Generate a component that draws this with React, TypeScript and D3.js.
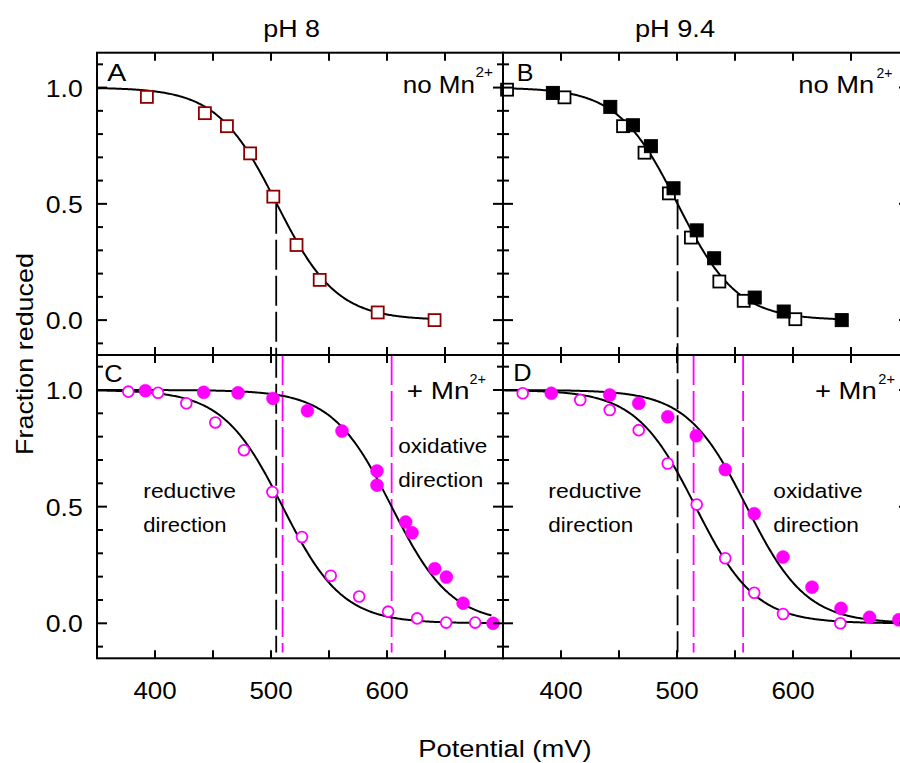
import React from "react";
import * as d3 from "d3";

// ---------- data ----------
const potentialTickLabels = [400, 500, 600];
const fractionTickLabels = [0.0, 0.5, 1.0];
const columnTitles = ["pH 8", "pH 9.4"];
const panelLetters = ["A", "B", "C", "D"];

// Panel A: pH 8, no Mn2+ (dark red open squares)
const aPotential = [393, 443, 462, 482, 502, 522, 542, 592, 641];
const aFraction = [0.96, 0.89, 0.834, 0.717, 0.531, 0.323, 0.173, 0.033, 0.0];

// Panel B: pH 9.4, no Mn2+
const bFilledPotential = [393, 442.5, 462, 477.5, 497, 517, 532, 567, 592, 642];
const bFilledFraction = [0.977, 0.917, 0.838, 0.748, 0.567, 0.386, 0.266, 0.097, 0.037, 0.0];
const bOpenPotential = [353.5, 403, 453.5, 472, 493, 512, 536.5, 557.5, 602];
const bOpenFraction = [0.991, 0.958, 0.834, 0.72, 0.545, 0.355, 0.166, 0.083, 0.004];

// Panel C: pH 8, + Mn2+
const cOpenPotential = [377, 402.6, 427, 452, 476.7, 501.2, 526.7, 551.5, 576, 601, 626, 651, 676];
const cOpenFraction = [0.993, 0.988, 0.943, 0.861, 0.742, 0.563, 0.37, 0.204, 0.115, 0.05, 0.021, 0.003, 0.003];
const cFilledPotential = [391.7, 442, 471.6, 501.7, 531.4, 561.2, 591.4, 591.4, 616.1, 621.6, 641.2, 651.2, 665.6, 691.4];
const cFilledFraction = [0.997, 0.99, 0.988, 0.964, 0.911, 0.824, 0.653, 0.592, 0.434, 0.388, 0.234, 0.198, 0.086, 0.0];

// Panel D: pH 9.4, + Mn2+
const dOpenPotential = [367, 416.6, 442, 467, 492, 517, 541.6, 566.6, 591.4, 640.8];
const dOpenFraction = [0.986, 0.957, 0.914, 0.828, 0.685, 0.509, 0.279, 0.131, 0.04, 0.0];
const dFilledPotential = [391.6, 442, 467, 492, 516.6, 541.6, 566.6, 591.4, 616.4, 641.4, 666, 691.2];
const dFilledFraction = [0.986, 0.979, 0.943, 0.885, 0.804, 0.659, 0.47, 0.284, 0.155, 0.064, 0.026, 0.015];

// Fitted Nernst (n = 1) midpoint potentials and curve ranges (mV)
const fitMidpoints = { A: 505, B: 500.5, Cred: 510, Cox: 604, Dred: 516, Dox: 560 };
const fitEnd = { A: 641, B: 642, C: 690, D: 700 };
const nernstSlope = 25.7;

// Dashed midpoint markers (mV)
const blackMidpoints = [504.5, 500.5];
const cMagentaMidpoints = [510, 604];
const dMagentaMidpoints = [514.3, 557];

// ---------- layout ----------
const W = 900;
const H = 763;
const FONT = "'Liberation Sans', Arial, Helvetica, sans-serif";
const DARKRED = "#8b0000";
const MAGENTA = "#ff00ff";

const xL = d3.scaleLinear().domain([350, 700]).range([97, 503]);
const xR = d3.scaleLinear().domain([350, 700]).range([503, 909]);
const yT = d3.scaleLinear().domain([-0.15, 1.15]).range([355, 52.7]);
const yB = d3.scaleLinear().domain([-0.15, 1.15]).range([658.3, 355]);

type Scale = d3.ScaleLinear<number, number>;

const nernst = (E: number, Em: number) => 1 / (1 + Math.exp((E - Em) / nernstSlope));

function fitPath(x: Scale, y: Scale, Em: number, end: number) {
  const Es = d3.range(350, end + 0.001, 1);
  const line = d3
    .line<number>()
    .x((e) => x(e))
    .y((e) => y(nernst(e, Em)))
    .curve(d3.curveLinear);
  return line(Es) || "";
}

const T = ({ x, y, w, size, children, fill = "#000" }: any) => (
  <text
    x={x}
    y={y}
    fontSize={size}
    fontFamily={FONT}
    fill={fill}
    textLength={w}
    lengthAdjust="spacingAndGlyphs"
  >
    {children}
  </text>
);

function Frame({ x, y }: { x: Scale; y: Scale }) {
  const [x0, x1] = x.range();
  const [y0, y1] = y.range(); // bottom, top
  const xt = d3.range(400, 700, 50);
  const yt = d3.range(-1, 12).map((i) => i / 10);
  const isMajor = (v: number) => Math.abs(v) < 1e-6 || Math.abs(v - 0.5) < 1e-6 || Math.abs(v - 1) < 1e-6;
  return (
    <g stroke="#000" strokeWidth={2} fill="none">
      {xt.map((v) => (
        <g key={"x" + v}>
          <line x1={x(v)} x2={x(v)} y1={y0} y2={y0 - 8} />
          <line x1={x(v)} x2={x(v)} y1={y1} y2={y1 + 8} />
        </g>
      ))}
      {yt.map((v) => {
        const len = isMajor(v) ? 10 : 6;
        return (
          <g key={"y" + v}>
            <line x1={x0} x2={x0 + len} y1={y(v)} y2={y(v)} />
            <line x1={x1} x2={x1 - len} y1={y(v)} y2={y(v)} />
          </g>
        );
      })}
      <rect x={x0} y={y1} width={x1 - x0} height={y0 - y1} />
    </g>
  );
}

function Squares({ x, y, E, F, stroke, filled }: any) {
  const s = filled ? 13 : 12;
  return (
    <g>
      {E.map((e: number, i: number) => (
        <rect
          key={i}
          x={x(e) - s / 2}
          y={y(F[i]) - s / 2}
          width={s}
          height={s}
          fill={filled ? stroke : "#fff"}
          stroke={stroke}
          strokeWidth={filled ? 1 : 1.8}
        />
      ))}
    </g>
  );
}

function Circles({ x, y, E, F, filled }: any) {
  return (
    <g>
      {E.map((e: number, i: number) => (
        <circle
          key={i}
          cx={x(e)}
          cy={y(F[i])}
          r={filled ? 6.5 : 5.4}
          fill={filled ? MAGENTA : "#fff"}
          stroke={MAGENTA}
          strokeWidth={filled ? 0.5 : 1.8}
        />
      ))}
    </g>
  );
}

const DASH = "30 6";
const FS = 24.5;
const SUP = 15.5;

export default function App() {
  return (
    <svg
      width={W}
      height={H}
      viewBox={`0 0 ${W} ${H}`}
      style={{ position: "absolute", left: 0, top: 0, background: "#fff" }}
    >
      <rect x={0} y={0} width={W} height={H} fill="#fff" />

      {/* column titles */}
      <T x={263.3} y={36.7} w={56.7} size={FS}>{columnTitles[0]}</T>
      <T x={635} y={36.7} w={80} size={FS}>{columnTitles[1]}</T>

      {/* dashed midpoint lines */}
      <g fill="none" strokeWidth={1.8} strokeDasharray={DASH}>
        <line x1={xL(blackMidpoints[0])} x2={xL(blackMidpoints[0])} y1={yT(0.5)} y2={yB(-0.125)} stroke="#000" />
        <line x1={xR(blackMidpoints[1])} x2={xR(blackMidpoints[1])} y1={yT(0.52)} y2={yB(-0.125)} stroke="#000" />
        {cMagentaMidpoints.map((m) => (
          <line key={"cm" + m} x1={xL(m)} x2={xL(m)} y1={yB(1.15)} y2={yB(-0.125)} stroke={MAGENTA} />
        ))}
        {dMagentaMidpoints.map((m) => (
          <line key={"dm" + m} x1={xR(m)} x2={xR(m)} y1={yB(1.15)} y2={yB(-0.125)} stroke={MAGENTA} />
        ))}
      </g>

      {/* fitted curves */}
      <g fill="none" stroke="#000" strokeWidth={2}>
        <path d={fitPath(xL, yT, fitMidpoints.A, fitEnd.A)} />
        <path d={fitPath(xR, yT, fitMidpoints.B, fitEnd.B)} />
        <path d={fitPath(xL, yB, fitMidpoints.Cred, fitEnd.C)} />
        <path d={fitPath(xL, yB, fitMidpoints.Cox, fitEnd.C)} />
        <path d={fitPath(xR, yB, fitMidpoints.Dred, fitEnd.D)} />
        <path d={fitPath(xR, yB, fitMidpoints.Dox, fitEnd.D)} />
      </g>

      {/* markers */}
      <Squares x={xL} y={yT} E={aPotential} F={aFraction} stroke={DARKRED} filled={false} />
      <Squares x={xR} y={yT} E={bOpenPotential} F={bOpenFraction} stroke="#000" filled={false} />
      <Squares x={xR} y={yT} E={bFilledPotential} F={bFilledFraction} stroke="#000" filled={true} />
      <Circles x={xL} y={yB} E={cFilledPotential} F={cFilledFraction} filled={true} />
      <Circles x={xL} y={yB} E={cOpenPotential} F={cOpenFraction} filled={false} />
      <Circles x={xR} y={yB} E={dFilledPotential} F={dFilledFraction} filled={true} />
      <Circles x={xR} y={yB} E={dOpenPotential} F={dOpenFraction} filled={false} />

      {/* frames */}
      <Frame x={xL} y={yT} />
      <Frame x={xR} y={yT} />
      <Frame x={xL} y={yB} />
      <Frame x={xR} y={yB} />

      {/* y tick labels */}
      {[yT, yB].map((y, j) =>
        fractionTickLabels.map((v) => (
          <T key={j + "-" + v} x={82.7 - 37} y={y(v) + 9} w={37} size={FS}>
            {v.toFixed(1)}
          </T>
        ))
      )}
      {/* x tick labels */}
      {[xL, xR].map((x, j) =>
        potentialTickLabels.map((v) => (
          <T key={j + "-" + v} x={x(v) - 21.6} y={699} w={43.3} size={FS}>
            {String(v)}
          </T>
        ))
      )}

      {/* axis labels */}
      <T x={418.3} y={757.3} w={173.3} size={FS}>Potential (mV)</T>
      <text
        transform="translate(33,455) rotate(-90)"
        fontSize={FS}
        fontFamily={FONT}
        textLength={202}
        lengthAdjust="spacingAndGlyphs"
      >
        Fraction reduced
      </text>

      {/* panel letters */}
      <T x={107.3} y={81} w={19} size={FS}>{panelLetters[0]}</T>
      <T x={516.7} y={81} w={16.7} size={FS}>{panelLetters[1]}</T>
      <T x={104.3} y={381.7} w={18.3} size={FS}>{panelLetters[2]}</T>
      <T x={513.3} y={381} w={18.3} size={FS}>{panelLetters[3]}</T>

      {/* Mn labels */}
      <T x={402.7} y={93} w={72.3} size={FS}>no Mn</T>
      <T x={475.5} y={77} w={17.5} size={SUP}>2+</T>
      <T x={798.3} y={92.5} w={76} size={FS}>no Mn</T>
      <T x={876.5} y={78} w={16} size={SUP}>2+</T>
      <T x={406.7} y={399} w={62.7} size={FS}>+ Mn</T>
      <T x={469.5} y={384} w={16.5} size={SUP}>2+</T>
      <T x={815} y={399} w={61.7} size={FS}>+ Mn</T>
      <T x={878.3} y={383.5} w={16.7} size={SUP}>2+</T>

      {/* direction annotations */}
      <T x={143.3} y={498.3} w={92.7} size={20.5}>reductive</T>
      <T x={143.3} y={531.7} w={83.3} size={20.5}>direction</T>
      <T x={398.3} y={453.3} w={89} size={20.5}>oxidative</T>
      <T x={398.3} y={486.7} w={85} size={20.5}>direction</T>
      <T x={548.3} y={498.3} w={93.3} size={20.5}>reductive</T>
      <T x={548.3} y={532} w={85} size={20.5}>direction</T>
      <T x={773.3} y={498.3} w={89.3} size={20.5}>oxidative</T>
      <T x={773.3} y={532} w={85.7} size={20.5}>direction</T>
    </svg>
  );
}
